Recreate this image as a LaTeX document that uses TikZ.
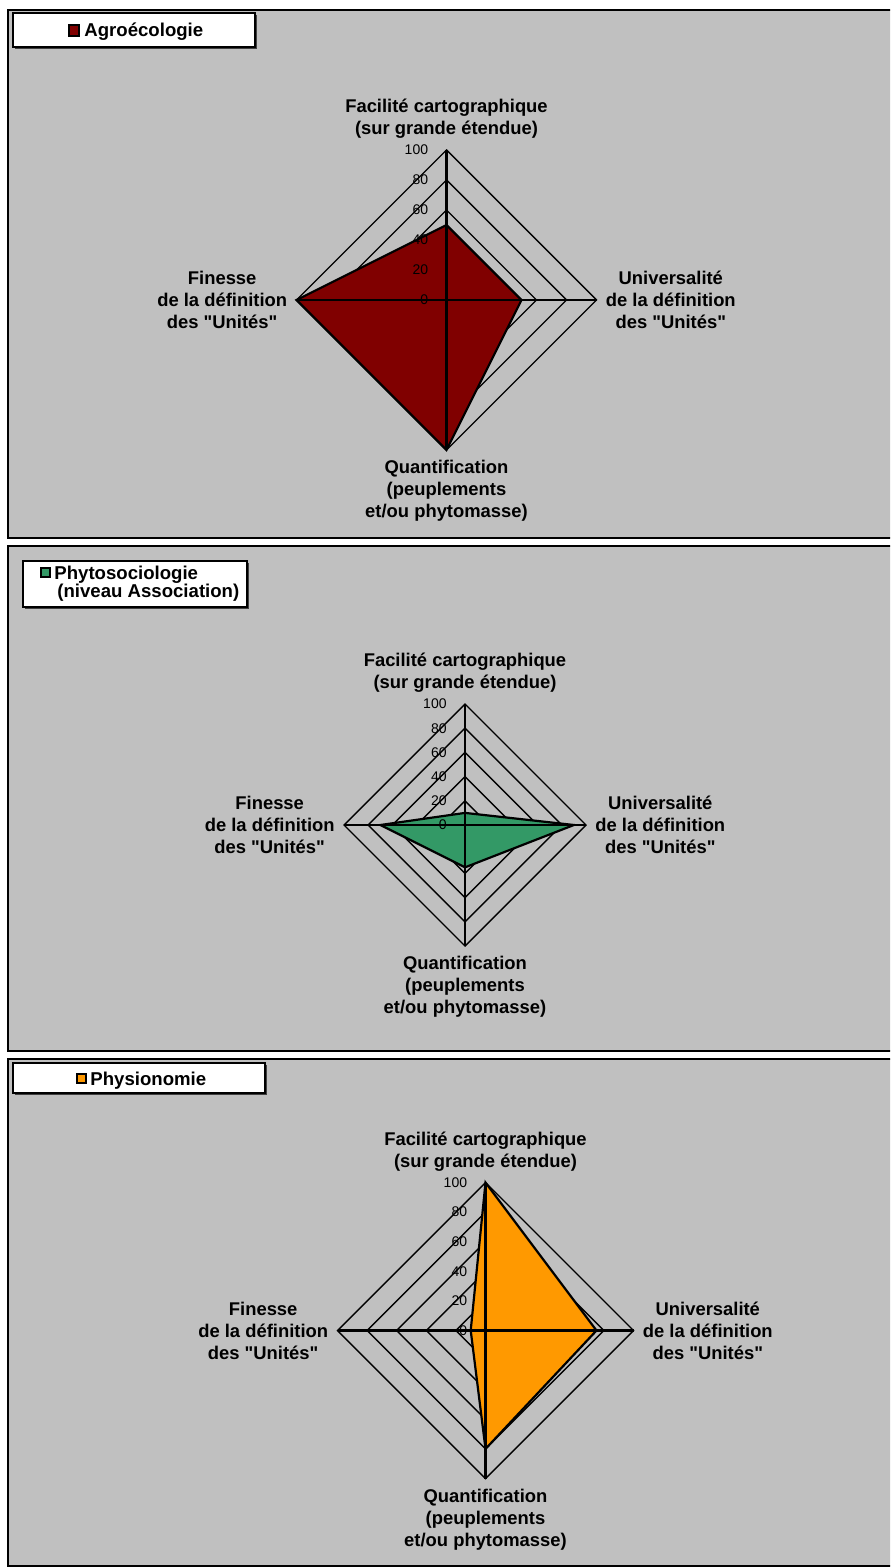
\documentclass[tikz,border=0pt]{standalone}
\usepackage{fontspec}
\setmainfont{Liberation Sans}
\definecolor{bggray}{RGB}{192,192,192}
\definecolor{agro}{RGB}{128,0,0}
\definecolor{phyto}{RGB}{51,153,102}
\definecolor{physio}{RGB}{255,153,0}
\tikzset{
  panelframe/.style={draw=black, line width=1pt, fill=bggray},
  ring/.style={draw=black, line width=0.7pt},
  axisline/.style={draw=black, line width=1.1pt},
  series/.style={draw=black, line width=1.1pt, line join=miter},
  lbl/.style={font=\bfseries\fontsize{9.2}{11}\selectfont, align=center, inner sep=0pt},
  ticklbl/.style={font=\fontsize{7}{8}\selectfont, anchor=east, inner sep=0pt},
  legbox/.style={draw=black, line width=0.7pt, fill=white},
  legshadow/.style={fill=black!75, draw=none},
  legsq/.style={draw=black, line width=0.6pt},
  legtext/.style={font=\bfseries\fontsize{9.3}{11}\selectfont, anchor=base west, inner sep=0pt},
}
% #1 cx, #2 cy, #3 r, #4 colour, #5 top, #6 right, #7 bottom, #8 left, #9 prefix
\newcommand\radarchart[9]{%
  \foreach \v in {20,40,60,80,100}{%
    \draw[ring] ({#1},{#2-#3*\v/100}) -- ({#1+#3*\v/100},{#2}) -- ({#1},{#2+#3*\v/100}) -- ({#1-#3*\v/100},{#2}) -- cycle;
  }
  \draw[series, fill=#4] ({#1},{#2-#3*#5/100}) -- ({#1+#3*#6/100},{#2}) -- ({#1},{#2+#3*#7/100}) -- ({#1-#3*#8/100},{#2}) -- cycle;
  \coordinate (#9-N) at ({#1},{#2-#3});
  \coordinate (#9-E) at ({#1+#3},{#2});
  \coordinate (#9-S) at ({#1},{#2+#3});
  \coordinate (#9-W) at ({#1-#3},{#2});
  \draw[axisline] (#9-W) -- (#9-E);
  \draw[axisline] (#9-N) -- (#9-S);
  \foreach \v in {0,20,40,60,80,100}{%
    \node[ticklbl] (#9-t\v) at ({#1-18},{#2-#3*\v/100}) {\v};
  }
  \node[lbl, anchor=south] (#9-fac) at ({#1},{#2-#3-11}) {Facilité cartographique\\(sur grande étendue)};
  \node[lbl, anchor=north] (#9-qua) at ({#1},{#2+#3+10}) {Quantification\\(peuplements\\et/ou phytomasse)};
  \node[lbl, anchor=east] (#9-fin) at ({#1-#3-9},{#2}) {Finesse\\de la définition\\des \textquotedbl Unités\textquotedbl};
  \node[lbl, anchor=west] (#9-uni) at ({#1+#3+9},{#2}) {Universalité\\de la définition\\des \textquotedbl Unités\textquotedbl};
}
\begin{document}
\begin{tikzpicture}[x=0.5pt, y=-0.5pt]
\useasboundingbox (0,0) rectangle (890,1567);
\clip (0,0) rectangle (890,1567);
\fill[white] (0,0) rectangle (890,1567);

% ---------- Panel 1 ----------
\draw[panelframe] (8,10) rectangle (900,538);
\fill[legshadow] (15,15) rectangle (257,49);
\draw[legbox] (13,13) rectangle (255,47);
\draw[legsq, fill=agro] (69,25) rectangle (79,36);
\node[legtext] (leg1) at (84,37) {Agroécologie};
\radarchart{446.5}{300}{150}{agro}{50}{50}{100}{100}{pa}

% ---------- Panel 2 ----------
\draw[panelframe] (8,546) rectangle (900,1051);
\fill[legshadow] (25,563) rectangle (249,609);
\draw[legbox] (23,561) rectangle (247,607);
\draw[legsq, fill=phyto] (41,568) rectangle (50,577);
\node[legtext] (leg2a) at (54,579) {Phytosociologie};
\node[legtext] (leg2b) at (57,597) {(niveau Association)};
\radarchart{465}{825}{121}{phyto}{10}{90}{35}{70}{pb}

% ---------- Panel 3 ----------
\draw[panelframe] (8,1059) rectangle (900,1566);
\fill[legshadow] (15,1065) rectangle (267,1095);
\draw[legbox] (13,1063) rectangle (265,1093);
\draw[legsq, fill=physio] (77,1074) rectangle (86,1083);
\node[legtext] (leg3) at (90,1085) {Physionomie};
\radarchart{485.5}{1330.5}{148}{physio}{100}{75}{80}{10}{pc}
\end{tikzpicture}
\end{document}
